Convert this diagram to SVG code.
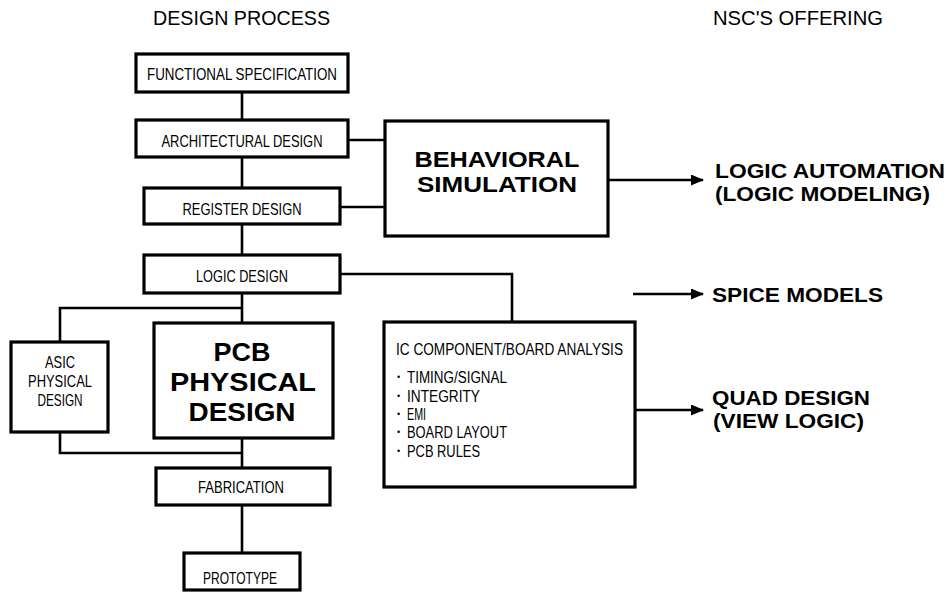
<svg xmlns="http://www.w3.org/2000/svg" width="946" height="602" viewBox="0 0 946 602">
<defs>
<style>
.box{fill:#fff;stroke:#000;stroke-width:3.2}
.con{fill:none;stroke:#000;stroke-width:2.6}
.t{font-family:"Liberation Sans",Arial,sans-serif;font-size:16.5px;fill:#000}
.s{font-family:"Liberation Sans",Arial,sans-serif;font-size:16px;fill:#000}
.d{font-family:"Liberation Sans",Arial,sans-serif;font-size:9px;fill:#000}
.h{font-family:"Liberation Sans",Arial,sans-serif;font-size:20.5px;fill:#000}
.b{font-family:"Liberation Sans",Arial,sans-serif;font-weight:bold;font-size:20px;fill:#000}
.B{font-family:"Liberation Sans",Arial,sans-serif;font-weight:bold;font-size:26px;fill:#000}
.m{font-family:"Liberation Sans",Arial,sans-serif;font-weight:bold;font-size:22.5px;fill:#000}
</style>
<marker id="ah" markerWidth="13" markerHeight="11" refX="12" refY="5.5" orient="auto" markerUnits="userSpaceOnUse">
<path d="M0,0 L13,5.5 L0,11 Z" fill="#000"/>
</marker>
</defs>
<rect width="946" height="602" fill="#fff"/>

<text class="h" x="153" y="25" textLength="177" lengthAdjust="spacingAndGlyphs">DESIGN PROCESS</text>
<text class="h" x="713" y="25" textLength="170" lengthAdjust="spacingAndGlyphs">NSC'S OFFERING</text>

<g id="connectors">
<line class="con" x1="242" y1="92" x2="242" y2="120"/>
<line class="con" x1="242" y1="157" x2="242" y2="188"/>
<line class="con" x1="242" y1="224" x2="242" y2="255"/>
<line class="con" x1="242" y1="293" x2="242" y2="323"/>
<line class="con" x1="242" y1="438" x2="242" y2="468"/>
<line class="con" x1="242" y1="505" x2="242" y2="553"/>
<line class="con" x1="348" y1="140" x2="385" y2="140"/>
<line class="con" x1="340" y1="207" x2="385" y2="207"/>
<polyline class="con" points="340,274 512,274 512,322"/>
<polyline class="con" points="242,308 60,308 60,342"/>
<polyline class="con" points="60,432 60,453 242,453"/>
<line class="con" x1="608" y1="180" x2="703" y2="180" marker-end="url(#ah)"/>
<line class="con" x1="633" y1="294" x2="703" y2="294" marker-end="url(#ah)"/>
<line class="con" x1="635" y1="410" x2="703" y2="410" marker-end="url(#ah)"/>
</g>

<g id="functional-specification">
<rect class="box" x="136" y="54" width="212" height="38"/>
<text class="t" x="242" y="80" text-anchor="middle" textLength="190" lengthAdjust="spacingAndGlyphs">FUNCTIONAL SPECIFICATION</text>
</g>
<g id="architectural-design">
<rect class="box" x="136" y="120" width="212" height="37"/>
<text class="t" x="242" y="147" text-anchor="middle" textLength="161" lengthAdjust="spacingAndGlyphs">ARCHITECTURAL DESIGN</text>
</g>
<g id="register-design">
<rect class="box" x="144" y="188" width="196" height="36"/>
<text class="t" x="242" y="215" text-anchor="middle" textLength="119" lengthAdjust="spacingAndGlyphs">REGISTER DESIGN</text>
</g>
<g id="logic-design">
<rect class="box" x="144" y="255" width="196" height="38"/>
<text class="t" x="242" y="282" text-anchor="middle" textLength="92" lengthAdjust="spacingAndGlyphs">LOGIC DESIGN</text>
</g>
<g id="asic-physical-design">
<rect class="box" x="11" y="342" width="97" height="90"/>
<text class="t" x="60" y="368" text-anchor="middle" textLength="30" lengthAdjust="spacingAndGlyphs">ASIC</text>
<text class="t" x="60" y="387" text-anchor="middle" textLength="64" lengthAdjust="spacingAndGlyphs">PHYSICAL</text>
<text class="t" x="60" y="406" text-anchor="middle" textLength="45" lengthAdjust="spacingAndGlyphs">DESIGN</text>
</g>
<g id="pcb-physical-design">
<rect class="box" x="154" y="323" width="179" height="115"/>
<text class="B" x="242" y="361" text-anchor="middle" textLength="57" lengthAdjust="spacingAndGlyphs">PCB</text>
<text class="B" x="243" y="391" text-anchor="middle" textLength="146" lengthAdjust="spacingAndGlyphs">PHYSICAL</text>
<text class="B" x="242" y="421" text-anchor="middle" textLength="107" lengthAdjust="spacingAndGlyphs">DESIGN</text>
</g>
<g id="fabrication">
<rect class="box" x="156" y="468" width="174" height="37"/>
<text class="t" x="241" y="493" text-anchor="middle" textLength="86" lengthAdjust="spacingAndGlyphs">FABRICATION</text>
</g>
<g id="prototype">
<rect class="box" x="184" y="553" width="116" height="37"/>
<text class="t" x="240" y="584" text-anchor="middle" textLength="74" lengthAdjust="spacingAndGlyphs">PROTOTYPE</text>
</g>
<g id="behavioral-simulation">
<rect class="box" x="385" y="121" width="223" height="115"/>
<text class="m" x="497" y="167" text-anchor="middle" textLength="165" lengthAdjust="spacingAndGlyphs">BEHAVIORAL</text>
<text class="m" x="497" y="192" text-anchor="middle" textLength="160" lengthAdjust="spacingAndGlyphs">SIMULATION</text>
</g>
<g id="ic-component-board-analysis">
<rect class="box" x="384" y="322" width="251" height="165"/>
<text class="s" x="396" y="355" textLength="227" lengthAdjust="spacingAndGlyphs">IC COMPONENT/BOARD ANALYSIS</text>
<text class="d" x="397" y="380">•</text><text class="s" x="407" y="383" textLength="100" lengthAdjust="spacingAndGlyphs">TIMING/SIGNAL</text>
<text class="d" x="397" y="399">•</text><text class="s" x="407" y="402" textLength="73" lengthAdjust="spacingAndGlyphs">INTEGRITY</text>
<text class="d" x="397" y="417">•</text><text class="s" x="407" y="420" textLength="19" lengthAdjust="spacingAndGlyphs">EMI</text>
<text class="d" x="397" y="435">•</text><text class="s" x="407" y="438" textLength="100" lengthAdjust="spacingAndGlyphs">BOARD LAYOUT</text>
<text class="d" x="397" y="454">•</text><text class="s" x="407" y="457" textLength="73" lengthAdjust="spacingAndGlyphs">PCB RULES</text>
</g>
<g id="logic-automation">
<text class="b" x="715" y="178" textLength="230" lengthAdjust="spacingAndGlyphs">LOGIC AUTOMATION</text>
<text class="b" x="715" y="201" textLength="215" lengthAdjust="spacingAndGlyphs">(LOGIC MODELING)</text>
</g>
<g id="spice-models">
<text class="b" x="712" y="302" textLength="171" lengthAdjust="spacingAndGlyphs">SPICE MODELS</text>
</g>
<g id="quad-design">
<text class="b" x="712" y="405" textLength="158" lengthAdjust="spacingAndGlyphs">QUAD DESIGN</text>
<text class="b" x="713" y="428" textLength="151" lengthAdjust="spacingAndGlyphs">(VIEW LOGIC)</text>
</g>
</svg>
